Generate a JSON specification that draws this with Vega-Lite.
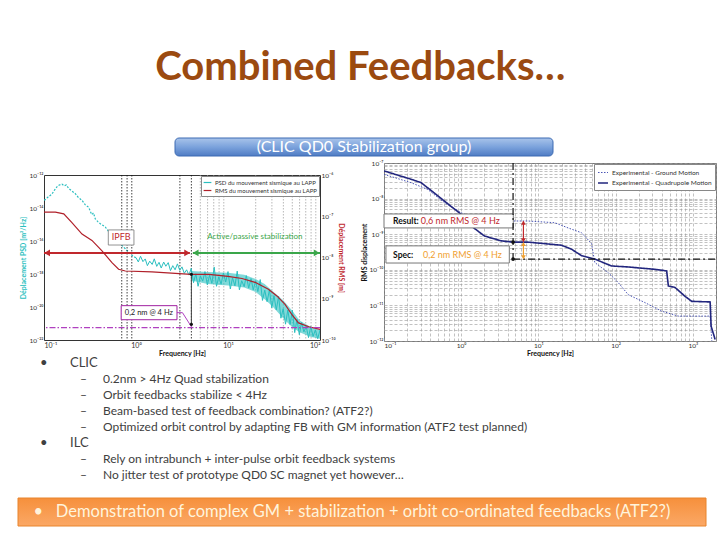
{
  "$schema": "https://vega.github.io/schema/vega-lite/v6.json",
  "background": "white",
  "padding": {"left": 17, "top": 47, "right": 0, "bottom": 0},
  "title": {"text": "Combined Feedbacks…", "font": "Lato", "fontSize": 40, "fontWeight": "bold", "color": "#9b4a10", "anchor": "middle", "offset": 50, "dx": -7},
  "config": {
    "font": "Lato",
    "view": {"stroke": null},
    "axis": {"labelFontSize": 6.5, "labelColor": "#333", "titleFontSize": 7, "titleFontWeight": "bold", "titleColor": "#111", "labelPadding": 1, "titlePadding": 1, "ticks": false, "labelOverlap": false, "domain": false, "grid": false}
  },
  "resolve": {"scale": {"color": "independent", "strokeDash": "independent", "strokeWidth": "independent", "stroke": "independent", "fill": "independent", "shape": "independent", "size": "independent"}, "legend": {"color": "independent", "strokeDash": "independent"}},
  "datasets": {
    "psd_low": [
      {"f": 0.1, "psd": 3e-14}, {"f": 0.103, "psd": 3.2e-14}, {"f": 0.11, "psd": 4.5e-14}, {"f": 0.122, "psd": 7e-14},
      {"f": 0.13, "psd": 1.2e-13}, {"f": 0.138, "psd": 1.9e-13}, {"f": 0.145, "psd": 2.4e-13}, {"f": 0.157, "psd": 2.8e-13},
      {"f": 0.165, "psd": 2.2e-13}, {"f": 0.175, "psd": 2.5e-13}, {"f": 0.186, "psd": 1.5e-13}, {"f": 0.2, "psd": 1.1e-13},
      {"f": 0.219, "psd": 7.4e-14}, {"f": 0.235, "psd": 4.5e-14}, {"f": 0.259, "psd": 2.9e-14}, {"f": 0.28, "psd": 1.6e-14},
      {"f": 0.306, "psd": 1.1e-14}, {"f": 0.33, "psd": 4e-15}, {"f": 0.345, "psd": 5e-15}, {"f": 0.361, "psd": 2.2e-15},
      {"f": 0.385, "psd": 1.5e-15}, {"f": 0.41, "psd": 1.1e-15}, {"f": 0.435, "psd": 9e-16}, {"f": 0.464, "psd": 7e-16},
      {"f": 0.5, "psd": 4e-16}, {"f": 0.548, "psd": 2.8e-16}, {"f": 0.6, "psd": 1.5e-16}, {"f": 0.647, "psd": 8.7e-17},
      {"f": 0.7, "psd": 5.5e-17}, {"f": 0.765, "psd": 3.4e-17}, {"f": 0.83, "psd": 2.2e-17}, {"f": 0.903, "psd": 1.35e-17},
      {"f": 0.95, "psd": 1.1e-17}, {"f": 1.0, "psd": 9.7e-18}
    ],
    "psd_high": [
      {"f": 1.0, "psd": 9.7e-18}, {"f": 1.06, "psd": 5.4e-18}, {"f": 1.12, "psd": 1.19e-17}, {"f": 1.19, "psd": 5.6e-18},
      {"f": 1.26, "psd": 8.2e-18}, {"f": 1.33, "psd": 3.2e-18}, {"f": 1.41, "psd": 6.0e-18}, {"f": 1.5, "psd": 3.8e-18},
      {"f": 1.58, "psd": 8.3e-18}, {"f": 1.68, "psd": 2.9e-18}, {"f": 1.78, "psd": 5.1e-18}, {"f": 1.88, "psd": 2.3e-18},
      {"f": 2.0, "psd": 5.3e-18}, {"f": 2.11, "psd": 2.95e-18}, {"f": 2.24, "psd": 4.9e-18}, {"f": 2.37, "psd": 1.6e-18},
      {"f": 2.51, "psd": 3.2e-18}, {"f": 2.66, "psd": 1.8e-18}, {"f": 2.82, "psd": 4.1e-18}, {"f": 2.99, "psd": 1.66e-18},
      {"f": 3.16, "psd": 2.7e-18}, {"f": 3.35, "psd": 1.1e-18}, {"f": 3.55, "psd": 1.8e-18}, {"f": 3.76, "psd": 8.6e-19},
      {"f": 3.98, "psd": 2.2e-18}, {"f": 4.22, "psd": 3.0e-19}, {"f": 4.47, "psd": 1.03e-18}, {"f": 4.73, "psd": 1.8e-19},
      {"f": 5.01, "psd": 7.6e-19}, {"f": 5.31, "psd": 3.7e-19}, {"f": 5.62, "psd": 1.4e-18}, {"f": 5.96, "psd": 2.2e-19},
      {"f": 6.31, "psd": 8.4e-19}, {"f": 6.68, "psd": 2.7e-19}, {"f": 7.08, "psd": 2.6e-18}, {"f": 7.5, "psd": 1.8e-19},
      {"f": 7.94, "psd": 6.8e-19}, {"f": 8.41, "psd": 2.4e-19}, {"f": 8.91, "psd": 1.15e-18}, {"f": 9.44, "psd": 3.3e-19},
      {"f": 10, "psd": 1.4e-18}, {"f": 10.6, "psd": 1.24e-19}, {"f": 11.2, "psd": 5.9e-19}, {"f": 11.9, "psd": 1.9e-19},
      {"f": 12.6, "psd": 1.5e-18}, {"f": 13.3, "psd": 1.1e-19}, {"f": 14.1, "psd": 3.9e-19}, {"f": 15, "psd": 1.7e-19},
      {"f": 15.8, "psd": 8.0e-19}, {"f": 16.8, "psd": 1.4e-19}, {"f": 17.8, "psd": 5.3e-19}, {"f": 18.8, "psd": 1.1e-19},
      {"f": 20, "psd": 3.8e-19}, {"f": 21.1, "psd": 8.6e-20}, {"f": 22.4, "psd": 4.6e-19}, {"f": 23.7, "psd": 2.5e-20},
      {"f": 25.1, "psd": 1.05e-19}, {"f": 26.6, "psd": 2.1e-20}, {"f": 28.2, "psd": 1.1e-19}, {"f": 29.9, "psd": 8.9e-21},
      {"f": 31.6, "psd": 4.9e-20}, {"f": 33.5, "psd": 6.7e-21}, {"f": 35.5, "psd": 4.5e-20}, {"f": 37.6, "psd": 2.1e-21},
      {"f": 39.8, "psd": 7.9e-21}, {"f": 42.2, "psd": 9.1e-22}, {"f": 44.7, "psd": 6.6e-21}, {"f": 47.3, "psd": 8.7e-22},
      {"f": 50.1, "psd": 6.3e-21}, {"f": 53.1, "psd": 2.8e-22}, {"f": 56.2, "psd": 1.8e-21}, {"f": 59.6, "psd": 2.1e-22},
      {"f": 63.1, "psd": 1.15e-21}, {"f": 66.8, "psd": 3.1e-22}, {"f": 70.8, "psd": 6.9e-22}, {"f": 75, "psd": 1.4e-22},
      {"f": 79.4, "psd": 6.6e-22}, {"f": 84.1, "psd": 1.66e-22}, {"f": 89.1, "psd": 4.1e-22}, {"f": 94.4, "psd": 1.2e-22},
      {"f": 100, "psd": 4.0e-22}
    ],
    "psd_band": [
      {"f": 4, "lo": 4e-19, "hi": 1.5e-18}, {"f": 6, "lo": 2.5e-19, "hi": 1.3e-18}, {"f": 10, "lo": 2e-19, "hi": 1.2e-18},
      {"f": 15, "lo": 1.5e-19, "hi": 9e-19}, {"f": 20, "lo": 8e-20, "hi": 5e-19}, {"f": 25, "lo": 3e-20, "hi": 2.5e-19},
      {"f": 30, "lo": 1.2e-20, "hi": 1e-19}, {"f": 40, "lo": 2e-21, "hi": 2.5e-20}, {"f": 50, "lo": 6e-22, "hi": 6e-21},
      {"f": 60, "lo": 3e-22, "hi": 1.5e-21}, {"f": 80, "lo": 1.5e-22, "hi": 6e-22}, {"f": 100, "lo": 1.2e-22, "hi": 4e-22}
    ],
    "rms": [
      {"f": 0.1, "rms": 1.26e-7}, {"f": 0.133, "rms": 1.26e-7}, {"f": 0.164, "rms": 1.14e-7}, {"f": 0.2, "rms": 7.1e-8},
      {"f": 0.259, "rms": 3.7e-8}, {"f": 0.332, "rms": 2.6e-8}, {"f": 0.427, "rms": 1.45e-8}, {"f": 0.548, "rms": 7.5e-9},
      {"f": 0.647, "rms": 5.2e-9}, {"f": 0.765, "rms": 4.7e-9}, {"f": 1.49, "rms": 4.5e-9}, {"f": 3.96, "rms": 3.9e-9},
      {"f": 6.2, "rms": 3.9e-9}, {"f": 10, "rms": 3.5e-9}, {"f": 14.2, "rms": 3.1e-9}, {"f": 19.7, "rms": 2.5e-9},
      {"f": 27.5, "rms": 1.7e-9}, {"f": 34, "rms": 1.17e-9}, {"f": 41.7, "rms": 7.3e-10}, {"f": 49.6, "rms": 4.1e-10},
      {"f": 58.4, "rms": 2.6e-10}, {"f": 75.6, "rms": 2.1e-10}, {"f": 100, "rms": 1.8e-10}
    ],
    "rp": [
      {"series": "Experimental - Ground Motion", "f": 0.1, "v": 4.8e-8},
      {"series": "Experimental - Ground Motion", "f": 0.224, "v": 2.8e-8},
      {"series": "Experimental - Ground Motion", "f": 0.369, "v": 1.8e-8},
      {"series": "Experimental - Ground Motion", "f": 0.607, "v": 7.7e-9},
      {"series": "Experimental - Ground Motion", "f": 1.0, "v": 4e-9},
      {"series": "Experimental - Ground Motion", "f": 1.65, "v": 2.6e-9},
      {"series": "Experimental - Ground Motion", "f": 3.3, "v": 2.35e-9},
      {"series": "Experimental - Ground Motion", "f": 7.3, "v": 2.35e-9},
      {"series": "Experimental - Ground Motion", "f": 16.3, "v": 2.1e-9},
      {"series": "Experimental - Ground Motion", "f": 24.3, "v": 1.5e-9},
      {"series": "Experimental - Ground Motion", "f": 36.2, "v": 1.1e-9},
      {"series": "Experimental - Ground Motion", "f": 48.7, "v": 5.5e-10},
      {"series": "Experimental - Ground Motion", "f": 53.8, "v": 1.6e-10},
      {"series": "Experimental - Ground Motion", "f": 80.4, "v": 8.3e-11},
      {"series": "Experimental - Ground Motion", "f": 108, "v": 4.4e-11},
      {"series": "Experimental - Ground Motion", "f": 146, "v": 2e-11},
      {"series": "Experimental - Ground Motion", "f": 240, "v": 1.2e-11},
      {"series": "Experimental - Ground Motion", "f": 395, "v": 6.9e-12},
      {"series": "Experimental - Ground Motion", "f": 652, "v": 5e-12},
      {"series": "Experimental - Ground Motion", "f": 1679, "v": 5e-12},
      {"series": "Experimental - Ground Motion", "f": 1766, "v": 1e-12},
      {"series": "Experimental - Quadrupole Motion", "f": 0.1, "v": 6e-8},
      {"series": "Experimental - Quadrupole Motion", "f": 0.117, "v": 5.4e-8},
      {"series": "Experimental - Quadrupole Motion", "f": 0.224, "v": 3.5e-8},
      {"series": "Experimental - Quadrupole Motion", "f": 0.303, "v": 2.8e-8},
      {"series": "Experimental - Quadrupole Motion", "f": 0.498, "v": 1.2e-8},
      {"series": "Experimental - Quadrupole Motion", "f": 1.0, "v": 3.6e-9},
      {"series": "Experimental - Quadrupole Motion", "f": 1.35, "v": 1.7e-9},
      {"series": "Experimental - Quadrupole Motion", "f": 2.0, "v": 8.9e-10},
      {"series": "Experimental - Quadrupole Motion", "f": 3.3, "v": 6.5e-10},
      {"series": "Experimental - Quadrupole Motion", "f": 4.7, "v": 6e-10},
      {"series": "Experimental - Quadrupole Motion", "f": 7.3, "v": 6e-10},
      {"series": "Experimental - Quadrupole Motion", "f": 19.9, "v": 4.9e-10},
      {"series": "Experimental - Quadrupole Motion", "f": 26.8, "v": 3.8e-10},
      {"series": "Experimental - Quadrupole Motion", "f": 36.2, "v": 2.5e-10},
      {"series": "Experimental - Quadrupole Motion", "f": 53.8, "v": 2e-10},
      {"series": "Experimental - Quadrupole Motion", "f": 88.7, "v": 1.28e-10},
      {"series": "Experimental - Quadrupole Motion", "f": 146, "v": 1.2e-10},
      {"series": "Experimental - Quadrupole Motion", "f": 324, "v": 1.03e-10},
      {"series": "Experimental - Quadrupole Motion", "f": 459, "v": 9.3e-11},
      {"series": "Experimental - Quadrupole Motion", "f": 483, "v": 3.5e-11},
      {"series": "Experimental - Quadrupole Motion", "f": 589, "v": 3.2e-11},
      {"series": "Experimental - Quadrupole Motion", "f": 794, "v": 1.8e-11},
      {"series": "Experimental - Quadrupole Motion", "f": 970, "v": 1.3e-11},
      {"series": "Experimental - Quadrupole Motion", "f": 1679, "v": 1.25e-11},
      {"series": "Experimental - Quadrupole Motion", "f": 1730, "v": 2.6e-12},
      {"series": "Experimental - Quadrupole Motion", "f": 1950, "v": 1.1e-12}
    ],
    "lines": [
      {"i": 0, "level": 1, "marker": "•", "text": "CLIC"},
      {"i": 1, "level": 2, "marker": "–", "text": "0.2nm > 4Hz Quad stabilization"},
      {"i": 2, "level": 2, "marker": "–", "text": "Orbit feedbacks stabilize < 4Hz"},
      {"i": 3, "level": 2, "marker": "–", "text": "Beam-based test of feedback combination? (ATF2?)"},
      {"i": 4, "level": 2, "marker": "–", "text": "Optimized orbit control by adapting FB with GM information (ATF2 test planned)"},
      {"i": 5, "level": 1, "marker": "•", "text": "ILC"},
      {"i": 6, "level": 2, "marker": "–", "text": "Rely on intrabunch + inter-pulse orbit feedback systems"},
      {"i": 7, "level": 2, "marker": "–", "text": "No jitter test of prototype QD0 SC magnet yet however…"}
    ]
  },
  "spacing": 0,
  "vconcat": [
    {
      "spacing": 0,
      "hconcat": [
        {"width": 156, "height": 18, "data": {"values": [{"t": ""}]}, "mark": {"type": "text"}, "encoding": {"text": {"field": "t"}}},
        {
          "width": 378, "height": 18,
          "data": {"values": [{"label": "(CLIC QD0 Stabilization group)"}]},
          "layer": [
            {"mark": {"type": "rect", "cornerRadius": 4, "stroke": "#3d6bb3", "strokeWidth": 1, "color": {"gradient": "linear", "x1": 0, "y1": 0, "x2": 0, "y2": 1, "stops": [{"offset": 0, "color": "#a9c4ea"}, {"offset": 0.5, "color": "#7ba2dc"}, {"offset": 1, "color": "#4f7cc4"}]}}, "encoding": {}},
            {"mark": {"type": "text", "color": "white", "fontSize": 16, "font": "Lato"}, "encoding": {"text": {"field": "label"}}}
          ]
        }
      ]
    },
    {
      "spacing": 0,
      "resolve": {"scale": {"color": "independent", "strokeDash": "independent", "strokeWidth": "independent", "stroke": "independent", "fill": "independent", "shape": "independent"}, "legend": {"color": "independent", "strokeDash": "independent"}},
      "hconcat": [
        {"width": 1, "height": 1, "data": {"values": [{"t": ""}]}, "mark": {"type": "text"}, "encoding": {"text": {"field": "t"}}},
        {
          "spacing": 15,
          "resolve": {"scale": {"color": "independent", "strokeDash": "independent", "strokeWidth": "independent", "stroke": "independent", "fill": "independent", "shape": "independent"}, "legend": {"color": "independent", "strokeDash": "independent"}},
          "hconcat": [
            {
              "spacing": 0,
              "resolve": {"scale": {"color": "independent", "strokeDash": "independent", "strokeWidth": "independent", "stroke": "independent", "fill": "independent", "shape": "independent"}, "legend": {"color": "independent", "strokeDash": "independent"}},
              "vconcat": [
                {"width": 1, "height": 6, "data": {"values": [{"t": ""}]}, "mark": {"type": "text"}, "encoding": {"text": {"field": "t"}}},
                {
                  "width": 276, "height": 165,
                  "view": {"stroke": "#333", "strokeWidth": 1},
                  "layer": [
                    {
                      "layer": [
                        {
                          "data": {"name": "psd_low"},
                          "mark": {"type": "line", "strokeDash": [2, 1.5], "strokeWidth": 1.2, "clip": true},
                          "encoding": {
                            "x": {"field": "f", "type": "quantitative", "scale": {"type": "log", "domain": [0.1, 100], "nice": false},
                                  "axis": {"title": "Frequency [Hz]", "values": [0.1, 1, 10, 100], "labelFontSize": 7, "labelExpr": "abs(log(datum.value)/LN10 - round(log(datum.value)/LN10)) < 0.01 ? '10' + replace(replace(replace(replace(replace(replace(replace(replace(replace(replace(replace(toString(round(log(datum.value)/LN10)),regexp('-','g'),'⁻'),regexp('0','g'),'⁰'),regexp('1','g'),'¹'),regexp('2','g'),'²'),regexp('3','g'),'³'),regexp('4','g'),'⁴'),regexp('5','g'),'⁵'),regexp('6','g'),'⁶'),regexp('7','g'),'⁷'),regexp('8','g'),'⁸'),regexp('9','g'),'⁹') : ''"}},
                            "y": {"field": "psd", "type": "quantitative", "scale": {"type": "log", "domain": [1e-22, 1e-12], "nice": false},
                                  "axis": {"orient": "left", "title": "Déplacement PSD [m²/Hz]", "titleColor": "#2bbfc0", "titlePadding": 2, "values": [1e-22, 1e-20, 1e-18, 1e-16, 1e-14, 1e-12], "labelExpr": "abs(log(datum.value)/LN10 - round(log(datum.value)/LN10)) < 0.01 ? '10' + replace(replace(replace(replace(replace(replace(replace(replace(replace(replace(replace(toString(round(log(datum.value)/LN10)),regexp('-','g'),'⁻'),regexp('0','g'),'⁰'),regexp('1','g'),'¹'),regexp('2','g'),'²'),regexp('3','g'),'³'),regexp('4','g'),'⁴'),regexp('5','g'),'⁵'),regexp('6','g'),'⁶'),regexp('7','g'),'⁷'),regexp('8','g'),'⁸'),regexp('9','g'),'⁹') : ''"}},
                            "color": {"datum": "PSD du mouvement sismique au LAPP", "scale": {"domain": ["PSD du mouvement sismique au LAPP", "RMS du mouvement sismique au LAPP"], "range": ["#2bbfc0", "#b0202a"]},
                                      "legend": {"orient": "top-right", "offset": 1, "title": null, "fillColor": "white", "strokeColor": "#888", "padding": 2, "labelFontSize": 6, "labelColor": "#333", "symbolType": "stroke", "symbolSize": 60, "symbolStrokeWidth": 1.2, "rowPadding": 0, "labelOffset": 3}}
                          }
                        },
                        {
                          "data": {"values": [{"f": 0.7}, {"f": 0.8}, {"f": 0.9}, {"f": 3}, {"f": 4}]},
                          "mark": {"type": "rule", "color": "#111", "strokeDash": [1.5, 1.5], "strokeWidth": 0.8},
                          "encoding": {"x": {"field": "f", "type": "quantitative"}}
                        },
                        {
                          "data": {"values": [{"f": 5}, {"f": 6}, {"f": 7}, {"f": 8}, {"f": 9}, {"f": 20}, {"f": 30}, {"f": 40}, {"f": 50}, {"f": 60}, {"f": 70}, {"f": 80}, {"f": 90}]},
                          "mark": {"type": "rule", "color": "#999", "strokeDash": [1.5, 1.5], "strokeWidth": 0.7},
                          "encoding": {"x": {"field": "f", "type": "quantitative"}}
                        },
                        {
                          "data": {"name": "psd_band"},
                          "mark": {"type": "area", "color": "#2bbfc0", "opacity": 0.6, "clip": true},
                          "encoding": {
                            "x": {"field": "f", "type": "quantitative"},
                            "y": {"field": "lo", "type": "quantitative"},
                            "y2": {"field": "hi"}
                          }
                        },
                        {
                          "data": {"name": "psd_high"},
                          "mark": {"type": "line", "color": "#2bbfc0", "strokeWidth": 1, "clip": true},
                          "encoding": {
                            "x": {"field": "f", "type": "quantitative"},
                            "y": {"field": "psd", "type": "quantitative"}
                          }
                        },
                        {
                          "data": {"values": [{"arrow": "IPFB", "f1": 0.1, "f2": 3.85}, {"arrow": "active", "f1": 4.15, "f2": 100}]},
                          "mark": {"type": "rule", "strokeWidth": 2},
                          "encoding": {
                            "x": {"field": "f1", "type": "quantitative"},
                            "x2": {"field": "f2"},
                            "y": {"datum": 1.9e-17, "type": "quantitative"},
                            "stroke": {"field": "arrow", "type": "nominal", "scale": {"domain": ["IPFB", "active"], "range": ["#c0282d", "#3aa64a"]}, "legend": null}
                          }
                        },
                        {
                          "data": {"values": [{"arrow": "IPFB", "f": 0.108, "end": "start"}, {"arrow": "IPFB", "f": 3.6, "end": "end"}, {"arrow": "active", "f": 4.45, "end": "start"}, {"arrow": "active", "f": 92, "end": "end"}]},
                          "mark": {"type": "point", "filled": true, "size": 45, "opacity": 1},
                          "encoding": {
                            "x": {"field": "f", "type": "quantitative"},
                            "y": {"datum": 1.9e-17, "type": "quantitative"},
                            "fill": {"field": "arrow", "type": "nominal", "scale": {"domain": ["IPFB", "active"], "range": ["#c0282d", "#3aa64a"]}, "legend": null},
                            "shape": {"field": "end", "type": "nominal", "scale": {"domain": ["start", "end"], "range": ["triangle-left", "triangle-right"]}, "legend": null}
                          }
                        },
                        {
                          "data": {"values": [{}]},
                          "mark": {"type": "rect", "fill": "white", "stroke": "#777", "strokeWidth": 0.8},
                          "encoding": {
                            "x": {"datum": 0.5, "type": "quantitative"},
                            "x2": {"datum": 0.95},
                            "y": {"datum": 4.7e-16, "type": "quantitative"},
                            "y2": {"datum": 5.7e-17}
                          }
                        },
                        {
                          "data": {"values": [{}]},
                          "mark": {"type": "text", "text": "IPFB", "color": "#c0282d", "fontSize": 9},
                          "encoding": {
                            "x": {"datum": 0.69, "type": "quantitative"},
                            "y": {"datum": 1.7e-16, "type": "quantitative"}
                          }
                        },
                        {
                          "data": {"values": [{}]},
                          "mark": {"type": "text", "text": "Active/passive stabilization", "color": "#3aa64a", "fontSize": 8},
                          "encoding": {
                            "x": {"datum": 19.6, "type": "quantitative"},
                            "y": {"datum": 1.7e-16, "type": "quantitative"}
                          }
                        }
                      ]
                    },
                    {
                      "layer": [
                        {
                          "data": {"name": "rms"},
                          "mark": {"type": "line", "strokeWidth": 1.2, "clip": true},
                          "encoding": {
                            "x": {"field": "f", "type": "quantitative"},
                            "y": {"field": "rms", "type": "quantitative", "scale": {"type": "log", "domain": [1e-10, 1e-6], "nice": false},
                                  "axis": {"orient": "right", "title": "Déplacement RMS [m]", "titleColor": "#c0282d", "titlePadding": 2, "values": [1e-10, 1e-9, 1e-8, 1e-7, 1e-6], "labelExpr": "abs(log(datum.value)/LN10 - round(log(datum.value)/LN10)) < 0.01 ? '10' + replace(replace(replace(replace(replace(replace(replace(replace(replace(replace(replace(toString(round(log(datum.value)/LN10)),regexp('-','g'),'⁻'),regexp('0','g'),'⁰'),regexp('1','g'),'¹'),regexp('2','g'),'²'),regexp('3','g'),'³'),regexp('4','g'),'⁴'),regexp('5','g'),'⁵'),regexp('6','g'),'⁶'),regexp('7','g'),'⁷'),regexp('8','g'),'⁸'),regexp('9','g'),'⁹') : ''"}},
                            "color": {"datum": "RMS du mouvement sismique au LAPP"}
                          }
                        },
                        {
                          "data": {"values": [{}]},
                          "mark": {"type": "rule", "color": "#b040c0", "strokeDash": [6, 2, 1.5, 2], "strokeWidth": 1.1},
                          "encoding": {"y": {"datum": 2e-10, "type": "quantitative"}}
                        },
                        {
                          "data": {"values": [{}]},
                          "mark": {"type": "rule", "color": "#444", "strokeWidth": 1},
                          "encoding": {
                            "x": {"datum": 4, "type": "quantitative"},
                            "y": {"datum": 3.9e-9, "type": "quantitative"},
                            "y2": {"datum": 2.4e-10}
                          }
                        },
                        {
                          "data": {"values": [{"f": 2.79, "v": 4.6e-10}, {"f": 3.2, "v": 4.6e-10}, {"f": 4, "v": 2.1e-10}]},
                          "mark": {"type": "line", "color": "#b040c0", "strokeWidth": 1},
                          "encoding": {
                            "x": {"field": "f", "type": "quantitative"},
                            "y": {"field": "v", "type": "quantitative"}
                          }
                        },
                        {
                          "data": {"values": [{"f": 4, "v": 3.9e-9}, {"f": 4, "v": 2.4e-10}]},
                          "mark": {"type": "point", "filled": true, "color": "#111", "size": 10, "opacity": 1},
                          "encoding": {
                            "x": {"field": "f", "type": "quantitative"},
                            "y": {"field": "v", "type": "quantitative"}
                          }
                        },
                        {
                          "data": {"values": [{}]},
                          "mark": {"type": "rect", "fill": "white", "stroke": "#a020a0", "strokeWidth": 1},
                          "encoding": {
                            "x": {"datum": 0.69, "type": "quantitative"},
                            "x2": {"datum": 2.79},
                            "y": {"datum": 6.8e-10, "type": "quantitative"},
                            "y2": {"datum": 3.1e-10}
                          }
                        },
                        {
                          "data": {"values": [{}]},
                          "mark": {"type": "text", "text": "0,2 nm @ 4 Hz", "color": "#222", "fontSize": 7.5},
                          "encoding": {
                            "x": {"datum": 1.38, "type": "quantitative"},
                            "y": {"datum": 4.6e-10, "type": "quantitative"}
                          }
                        }
                      ]
                    }
                  ],
                  "resolve": {"scale": {"y": "independent"}}
                }
              ]
            },
            {
              "width": 332, "height": 178,
              "view": {"stroke": "#777", "strokeWidth": 1},
              "layer": [
                {
                  "data": {"name": "rp"},
                  "mark": {"type": "line", "clip": true},
                  "encoding": {
                    "x": {"field": "f", "type": "quantitative", "scale": {"type": "log", "domain": [0.1, 2000], "nice": false},
                          "axis": {"title": "Frequency [Hz]", "grid": true, "gridDash": [3, 2], "gridColor": "#999", "gridWidth": 0.6,
                                   "values": [0.1, 0.2, 0.3, 0.4, 0.5, 0.6, 0.7, 0.8, 0.9, 1, 2, 3, 4, 5, 6, 7, 8, 9, 10, 20, 30, 40, 50, 60, 70, 80, 90, 100, 200, 300, 400, 500, 600, 700, 800, 900, 1000, 2000],
                                   "labelExpr": "abs(log(datum.value)/LN10 - round(log(datum.value)/LN10)) < 0.01 ? '10' + replace(replace(replace(replace(replace(replace(replace(replace(replace(replace(replace(toString(round(log(datum.value)/LN10)),regexp('-','g'),'⁻'),regexp('0','g'),'⁰'),regexp('1','g'),'¹'),regexp('2','g'),'²'),regexp('3','g'),'³'),regexp('4','g'),'⁴'),regexp('5','g'),'⁵'),regexp('6','g'),'⁶'),regexp('7','g'),'⁷'),regexp('8','g'),'⁸'),regexp('9','g'),'⁹') : ''"}},
                    "y": {"field": "v", "type": "quantitative", "scale": {"type": "log", "domain": [1e-12, 1e-7], "nice": false},
                          "axis": {"title": "RMS displacement", "grid": true, "gridDash": [3, 2], "gridColor": "#999", "gridWidth": 0.6,
                                   "values": [1e-12, 2e-12, 3e-12, 4e-12, 5e-12, 6e-12, 7e-12, 8e-12, 9e-12, 1e-11, 2e-11, 3e-11, 4e-11, 5e-11, 6e-11, 7e-11, 8e-11, 9e-11, 1e-10, 2e-10, 3e-10, 4e-10, 5e-10, 6e-10, 7e-10, 8e-10, 9e-10, 1e-9, 2e-9, 3e-9, 4e-9, 5e-9, 6e-9, 7e-9, 8e-9, 9e-9, 1e-8, 2e-8, 3e-8, 4e-8, 5e-8, 6e-8, 7e-8, 8e-8, 9e-8, 1e-7],
                                   "labelExpr": "abs(log(datum.value)/LN10 - round(log(datum.value)/LN10)) < 0.01 ? '10' + replace(replace(replace(replace(replace(replace(replace(replace(replace(replace(replace(toString(round(log(datum.value)/LN10)),regexp('-','g'),'⁻'),regexp('0','g'),'⁰'),regexp('1','g'),'¹'),regexp('2','g'),'²'),regexp('3','g'),'³'),regexp('4','g'),'⁴'),regexp('5','g'),'⁵'),regexp('6','g'),'⁶'),regexp('7','g'),'⁷'),regexp('8','g'),'⁸'),regexp('9','g'),'⁹') : ''"}},
                    "color": {"field": "series", "type": "nominal", "scale": {"domain": ["Experimental - Ground Motion", "Experimental - Quadrupole Motion"], "range": ["#4a55b5", "#22267e"]},
                              "legend": {"orient": "top-right", "offset": 1, "title": null, "fillColor": "white", "strokeColor": "#888", "padding": 3, "labelFontSize": 6.5, "labelColor": "#333", "symbolType": "stroke", "symbolSize": 100, "symbolStrokeWidth": 1.3, "rowPadding": 1, "labelOffset": 3}},
                    "strokeDash": {"field": "series", "type": "nominal", "scale": {"domain": ["Experimental - Ground Motion", "Experimental - Quadrupole Motion"], "range": [[1.5, 1.5], [1, 0]]}, "legend": {"orient": "top-right", "offset": 1, "title": null, "fillColor": "white", "strokeColor": "#888", "padding": 3, "labelFontSize": 6.5, "labelColor": "#333", "symbolType": "stroke", "symbolSize": 100, "symbolStrokeWidth": 1.3, "rowPadding": 1, "labelOffset": 3}},
                    "strokeWidth": {"field": "series", "type": "nominal", "scale": {"domain": ["Experimental - Ground Motion", "Experimental - Quadrupole Motion"], "range": [1, 1.6]}, "legend": null}
                  }
                },
                {
                  "data": {"values": [{}]},
                  "mark": {"type": "rect", "fill": "white", "stroke": "#777", "strokeWidth": 1},
                  "encoding": {
                    "x": {"datum": 0.1, "type": "quantitative"},
                    "x2": {"datum": 4.73},
                    "y": {"datum": 3.7e-9, "type": "quantitative"},
                    "y2": {"datum": 1.5e-9}
                  }
                },
                {
                  "data": {"values": [{}]},
                  "mark": {"type": "text", "text": "Result:", "align": "left", "fontWeight": "bold", "color": "#111", "fontSize": 8.5},
                  "encoding": {"x": {"datum": 0.131, "type": "quantitative"}, "y": {"datum": 2.35e-9, "type": "quantitative"}}
                },
                {
                  "data": {"values": [{}]},
                  "mark": {"type": "text", "text": "0,6 nm RMS @ 4 Hz", "align": "left", "color": "#c0282d", "fontSize": 9},
                  "encoding": {"x": {"datum": 0.3, "type": "quantitative"}, "y": {"datum": 2.35e-9, "type": "quantitative"}}
                },
                {
                  "data": {"values": [{}]},
                  "mark": {"type": "rect", "fill": "white", "stroke": "#777", "strokeWidth": 1},
                  "encoding": {
                    "x": {"datum": 0.106, "type": "quantitative"},
                    "x2": {"datum": 4.2},
                    "y": {"datum": 4.7e-10, "type": "quantitative"},
                    "y2": {"datum": 1.55e-10}
                  }
                },
                {
                  "data": {"values": [{}]},
                  "mark": {"type": "text", "text": "Spec:", "align": "left", "fontWeight": "bold", "color": "#111", "fontSize": 8.5},
                  "encoding": {"x": {"datum": 0.131, "type": "quantitative"}, "y": {"datum": 2.6e-10, "type": "quantitative"}}
                },
                {
                  "data": {"values": [{}]},
                  "mark": {"type": "text", "text": "0,2 nm RMS @ 4 Hz", "align": "left", "color": "#f0a030", "fontSize": 9},
                  "encoding": {"x": {"datum": 0.32, "type": "quantitative"}, "y": {"datum": 2.6e-10, "type": "quantitative"}}
                },
                {
                  "data": {"values": [{}]},
                  "mark": {"type": "rule", "color": "#111", "strokeDash": [7, 3, 2, 3], "strokeWidth": 1.4},
                  "encoding": {
                    "x": {"datum": 4.7, "type": "quantitative"},
                    "x2": {"datum": 2000},
                    "y": {"datum": 2e-10, "type": "quantitative"}
                  }
                },
                {
                  "data": {"values": [{}]},
                  "mark": {"type": "rule", "color": "#111", "strokeDash": [7, 3, 2, 3], "strokeWidth": 1.2},
                  "encoding": {
                    "x": {"datum": 4.7, "type": "quantitative"},
                    "y": {"datum": 1e-7, "type": "quantitative"},
                    "y2": {"datum": 2e-10}
                  }
                },
                {
                  "data": {"values": [{"arrow": "result", "v1": 2.3e-9, "v2": 6.3e-10}, {"arrow": "spec", "v1": 5.7e-10, "v2": 2.1e-10}]},
                  "mark": {"type": "rule", "strokeWidth": 1.2},
                  "encoding": {
                    "x": {"datum": 6.4, "type": "quantitative"},
                    "y": {"field": "v1", "type": "quantitative"},
                    "y2": {"field": "v2"},
                    "stroke": {"field": "arrow", "type": "nominal", "scale": {"domain": ["result", "spec"], "range": ["#c0282d", "#f0a030"]}, "legend": null}
                  }
                },
                {
                  "data": {"values": [{"arrow": "result", "v": 2.1e-9, "end": "top"}, {"arrow": "result", "v": 6.8e-10, "end": "bottom"}, {"arrow": "spec", "v": 5.3e-10, "end": "top"}, {"arrow": "spec", "v": 2.25e-10, "end": "bottom"}]},
                  "mark": {"type": "point", "filled": true, "size": 22, "opacity": 1},
                  "encoding": {
                    "x": {"datum": 6.4, "type": "quantitative"},
                    "y": {"field": "v", "type": "quantitative"},
                    "fill": {"field": "arrow", "type": "nominal", "scale": {"domain": ["result", "spec"], "range": ["#c0282d", "#f0a030"]}, "legend": null},
                    "shape": {"field": "end", "type": "nominal", "scale": {"domain": ["top", "bottom"], "range": ["triangle-up", "triangle-down"]}, "legend": null}
                  }
                },
                {
                  "data": {"values": [{"f": 4.7, "v": 6e-10}, {"f": 4.7, "v": 2e-10}]},
                  "mark": {"type": "point", "filled": true, "color": "#111", "size": 14, "opacity": 1},
                  "encoding": {
                    "x": {"field": "f", "type": "quantitative"},
                    "y": {"field": "v", "type": "quantitative"}
                  }
                }
              ]
            }
          ]
        }
      ]
    },
    {
      "width": 660, "height": 140,
      "data": {"name": "lines"},
      "layer": [
        {
          "mark": {"type": "text", "align": "left", "baseline": "middle", "color": "#404040"},
          "encoding": {
            "x": {"field": "level", "type": "quantitative", "scale": {"domain": [1, 2], "range": [22, 62]}, "axis": null},
            "y": {"field": "i", "type": "quantitative", "scale": {"domain": [0, 7], "range": [6, 118]}, "axis": null},
            "text": {"field": "marker"},
            "size": {"field": "level", "type": "quantitative", "scale": {"domain": [1, 2], "range": [13, 12]}, "legend": null}
          }
        },
        {
          "mark": {"type": "text", "align": "left", "baseline": "middle", "color": "#404040"},
          "encoding": {
            "x": {"field": "level", "type": "quantitative", "scale": {"domain": [1, 2], "range": [52, 85]}, "axis": null},
            "y": {"field": "i", "type": "quantitative", "scale": {"domain": [0, 7], "range": [6, 118]}, "axis": null},
            "text": {"field": "text"},
            "size": {"field": "level", "type": "quantitative", "scale": {"domain": [1, 2], "range": [13, 12]}, "legend": null}
          }
        }
      ],
      "resolve": {"scale": {"x": "independent"}}
    },
    {
      "width": 688, "height": 28,
      "data": {"values": [{"label": "•\u00a0\u00a0 Demonstration of complex GM + stabilization + orbit co-ordinated feedbacks (ATF2?)"}]},
      "layer": [
        {"mark": {"type": "rect", "stroke": "#e8842c", "strokeWidth": 1, "color": {"gradient": "linear", "x1": 0, "y1": 0, "x2": 0, "y2": 1, "stops": [{"offset": 0, "color": "#f6903c"}, {"offset": 1, "color": "#fba866"}]}}, "encoding": {}},
        {"mark": {"type": "text", "color": "#fff4dc", "fontSize": 16.5, "dx": -10}, "encoding": {"text": {"field": "label"}}}
      ]
    }
  ]
}
